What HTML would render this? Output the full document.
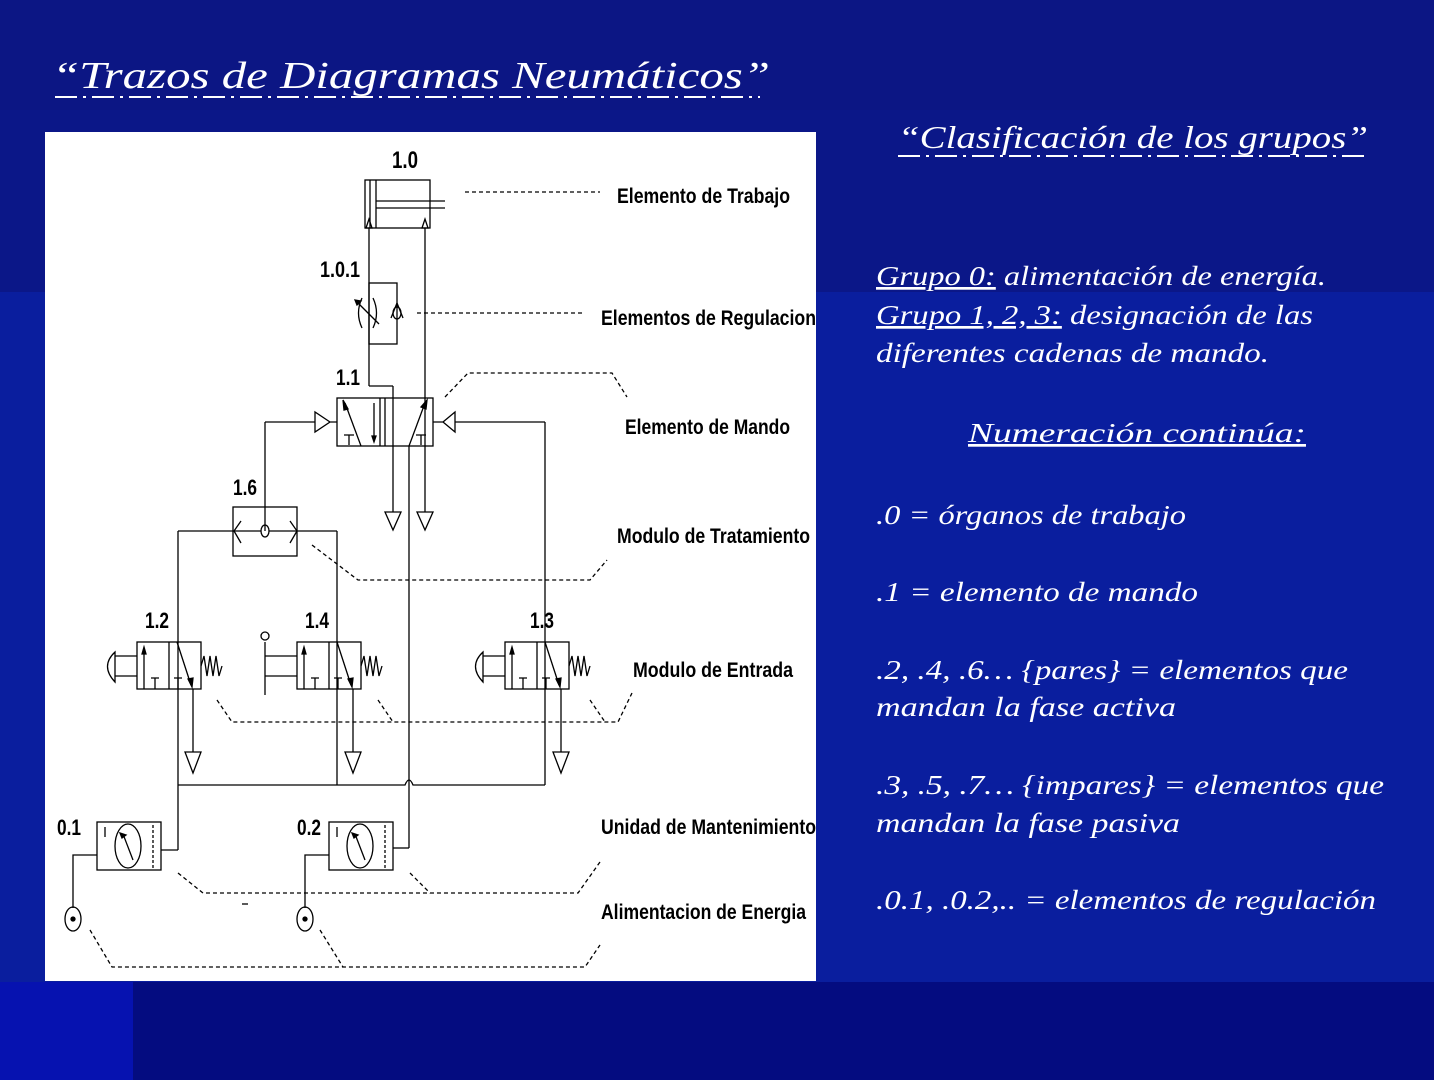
<!DOCTYPE html>
<html><head><meta charset="utf-8"><style>
html,body{margin:0;padding:0;width:1434px;height:1080px;overflow:hidden;background:#0a1c9c;}
.hw{font-family:"Liberation Serif",serif;font-style:italic;fill:#fff;}
.lb{font-family:"Liberation Sans Narrow","Liberation Sans",sans-serif;font-weight:bold;fill:#000;}
</style></head><body>
<svg width="1434" height="1080" viewBox="0 0 1434 1080" xmlns="http://www.w3.org/2000/svg">
<rect x="0" y="0" width="1434" height="1080" fill="#0a1e9e"/>
<rect x="0" y="0" width="1434" height="292" fill="#0b1788"/>
<rect x="0" y="0" width="1434" height="110" fill="#0c1684"/>
<rect x="133" y="982" width="1301" height="98" fill="#040c80"/>
<rect x="0" y="982" width="133" height="98" fill="#0612b0"/>

<text x="52" y="88" class="hw" font-size="38" textLength="718" lengthAdjust="spacingAndGlyphs">“Trazos de Diagramas  Neumáticos”</text>
<line x1="55" y1="97" x2="760" y2="97" stroke="#fff" stroke-width="2" stroke-dasharray="22,6,3,6"/>

<rect x="45" y="132" width="771" height="849" fill="#fff"/>
<g stroke="#000" stroke-width="1.3" fill="none">
<!-- cylinder -->
<rect x="365" y="180" width="65" height="48"/>
<line x1="370" y1="180" x2="370" y2="228"/><line x1="376" y1="180" x2="376" y2="228"/>
<line x1="376" y1="201" x2="445" y2="201"/><line x1="376" y1="208" x2="445" y2="208"/>
<path d="M366 228 L369 219 L372 228Z M422 228 L425 219 L428 228Z"/>
<line x1="465" y1="192" x2="600" y2="192" stroke-dasharray="4,3"/>
<!-- flow control -->
<line x1="369" y1="228" x2="369" y2="386"/>
<rect x="369" y="283" width="28" height="61"/>
<path d="M362 298 Q355 313 362 328 M373 298 Q380 313 373 328"/>
<line x1="355" y1="300" x2="379" y2="324"/><path d="M355 300 l6 1 l-4 4z" fill="#000"/>
<path d="M397 303 L391 318 M397 303 L403 318"/><ellipse cx="397" cy="313" rx="4" ry="6"/>
<line x1="417" y1="313" x2="583" y2="313" stroke-dasharray="4,3"/>
<line x1="369" y1="386" x2="393" y2="386"/>
<line x1="393" y1="386" x2="393" y2="512"/>
<line x1="425" y1="228" x2="425" y2="512"/>
<!-- valve 1.1 -->
<rect x="337" y="398" width="96" height="48"/>
<line x1="380" y1="398" x2="380" y2="446"/><line x1="385" y1="398" x2="385" y2="446"/>
<line x1="345" y1="403" x2="361" y2="446"/><path d="M343 400 l5 9 l-4 1z" fill="#000"/>
<line x1="374" y1="403" x2="374" y2="440"/><path d="M372 436 l2 6 l2 -6z" fill="#000"/>
<line x1="409" y1="446" x2="425" y2="403"/><path d="M427 400 l-1 9 l-5 -2z" fill="#000"/>
<path d="M344 435 h10 M349 435 v10 M416 435 h10 M421 435 v10"/>
<path d="M330 422 L315 412 L315 432Z M337 422 h-7"/>
<path d="M443 422 L455 412 L455 432Z M433 422 h10"/>
<line x1="265" y1="422" x2="315" y2="422"/><line x1="265" y1="422" x2="265" y2="531"/>
<line x1="455" y1="422" x2="545" y2="422"/><line x1="545" y1="422" x2="545" y2="642"/>
<path d="M385 512 L401 512 L393 530Z M417 512 L433 512 L425 530Z"/>
<line x1="409" y1="446" x2="409" y2="780"/>
<path d="M445 397 L468 373 L612 373 L627 397" stroke-dasharray="4,3"/>
<!-- shuttle 1.6 -->
<rect x="233" y="507" width="64" height="49"/>
<line x1="178" y1="531" x2="261" y2="531"/><line x1="269" y1="531" x2="337" y2="531"/>
<ellipse cx="265" cy="531" rx="4" ry="6"/>
<path d="M241 521 L234 531 L241 543 M290 521 L297 531 L290 543"/>
<line x1="178" y1="531" x2="178" y2="850"/>
<line x1="337" y1="531" x2="337" y2="785"/>
<path d="M312 545 L358 580 L590 580 L607 560" stroke-dasharray="4,3"/>
<!-- valves 1.2, 1.4, 1.3 -->
<g id="v">
<rect x="137" y="642" width="64" height="47"/>
<line x1="169" y1="642" x2="169" y2="689"/>
<line x1="144" y1="648" x2="144" y2="689"/><path d="M142 654 l2 -7 l2 7z" fill="#000"/>
<line x1="177" y1="642" x2="191" y2="685"/><path d="M188 679 l4 8 l1 -9z" fill="#000"/>
<path d="M151 678 h8 M155 678 v11 M174 678 h8 M178 678 v11"/>
<path d="M201 666 l3 -10 l3 20 l3 -20 l3 20 l3 -20 l3 20 l3 -10"/>
</g>
<use href="#v" x="160"/><use href="#v" x="368"/>
<path d="M137 656 h-22 M137 676 h-22 M115 652 Q100 666 115 682Z"/>
<path d="M505 656 h-22 M505 676 h-22 M483 652 Q468 666 483 682Z"/>
<path d="M297 656 h-32 M297 676 h-32 M265 642 v53"/><circle cx="265" cy="636" r="4"/>
<line x1="193" y1="689" x2="193" y2="752"/><path d="M185 752 L201 752 L193 773Z"/>
<line x1="353" y1="689" x2="353" y2="752"/><path d="M345 752 L361 752 L353 773Z"/>
<line x1="561" y1="689" x2="561" y2="752"/><path d="M553 752 L569 752 L561 773Z"/>
<path d="M217 700 L232 722 L618 722 L632 693 M378 700 L393 722 M590 700 L605 722" stroke-dasharray="4,3"/>
<path d="M178 785 L405 785 Q409 775 413 785 L545 785"/>
<line x1="545" y1="642" x2="545" y2="785"/>
<line x1="409" y1="780" x2="409" y2="848"/><line x1="409" y1="848" x2="393" y2="848"/>
<!-- FRL units -->
<g id="f">
<rect x="97" y="822" width="64" height="48"/>
<line x1="105" y1="827" x2="105" y2="837"/>
<ellipse cx="128" cy="846" rx="13" ry="22"/>
<line x1="153" y1="825" x2="153" y2="868" stroke-dasharray="3,2"/>
<line x1="123" y1="834" x2="133" y2="860"/><path d="M120 833 l6 2 l-4 3z" fill="#000"/>
<path d="M97 855 h-24 v53"/>
<ellipse cx="73" cy="919" rx="8" ry="12"/>
</g>
<use href="#f" x="232"/>
<circle cx="73" cy="919" r="2" fill="#000"/><circle cx="305" cy="919" r="2" fill="#000"/>
<line x1="178" y1="850" x2="161" y2="850"/>
<path d="M178 873 L203 893 L578 893 L600 862 M410 873 L430 893" stroke-dasharray="4,3"/>
<path d="M90 930 L112 967 L585 967 L600 945 M320 930 L343 967" stroke-dasharray="4,3"/>
<line x1="242" y1="904" x2="248" y2="904"/>
</g>
<g class="lb">
<text x="392" y="168" font-size="24" textLength="26" lengthAdjust="spacingAndGlyphs">1.0</text>
<text x="320" y="277" font-size="22" textLength="40" lengthAdjust="spacingAndGlyphs">1.0.1</text>
<text x="336" y="385" font-size="22" textLength="24" lengthAdjust="spacingAndGlyphs">1.1</text>
<text x="233" y="495" font-size="22" textLength="24" lengthAdjust="spacingAndGlyphs">1.6</text>
<text x="145" y="628" font-size="22" textLength="24" lengthAdjust="spacingAndGlyphs">1.2</text>
<text x="305" y="628" font-size="22" textLength="24" lengthAdjust="spacingAndGlyphs">1.4</text>
<text x="530" y="628" font-size="22" textLength="24" lengthAdjust="spacingAndGlyphs">1.3</text>
<text x="57" y="835" font-size="22" textLength="24" lengthAdjust="spacingAndGlyphs">0.1</text>
<text x="297" y="835" font-size="22" textLength="24" lengthAdjust="spacingAndGlyphs">0.2</text>
<text x="617" y="203" font-size="21" textLength="173" lengthAdjust="spacingAndGlyphs">Elemento de Trabajo</text>
<text x="601" y="325" font-size="21" textLength="215" lengthAdjust="spacingAndGlyphs">Elementos de Regulacion</text>
<text x="625" y="434" font-size="21" textLength="165" lengthAdjust="spacingAndGlyphs">Elemento de Mando</text>
<text x="617" y="543" font-size="21" textLength="193" lengthAdjust="spacingAndGlyphs">Modulo de Tratamiento</text>
<text x="633" y="677" font-size="21" textLength="160" lengthAdjust="spacingAndGlyphs">Modulo de Entrada</text>
<text x="601" y="834" font-size="21" textLength="215" lengthAdjust="spacingAndGlyphs">Unidad de Mantenimiento</text>
<text x="601" y="919" font-size="21" textLength="205" lengthAdjust="spacingAndGlyphs">Alimentacion de Energia</text>
</g>

<text x="1133" y="148" class="hw" font-size="32" text-anchor="middle" textLength="470" lengthAdjust="spacingAndGlyphs">“Clasificación de los grupos”</text>
<line x1="898" y1="156" x2="1368" y2="156" stroke="#fff" stroke-width="2" stroke-dasharray="22,6,3,6"/>
<g class="hw" font-size="27">
<text x="876" y="285" textLength="450" lengthAdjust="spacingAndGlyphs"><tspan text-decoration="underline">Grupo 0:</tspan> alimentación de energía.</text>
<text x="876" y="324" textLength="437" lengthAdjust="spacingAndGlyphs"><tspan text-decoration="underline">Grupo 1, 2, 3:</tspan> designación de las</text>
<text x="876" y="362" textLength="393" lengthAdjust="spacingAndGlyphs">diferentes cadenas de mando.</text>
<text x="968" y="442" textLength="338" lengthAdjust="spacingAndGlyphs" text-decoration="underline">Numeración continúa:</text>
<text x="876" y="524" textLength="310" lengthAdjust="spacingAndGlyphs">.0 = órganos de trabajo</text>
<text x="876" y="601" textLength="322" lengthAdjust="spacingAndGlyphs">.1 = elemento de mando</text>
<text x="876" y="679" textLength="472" lengthAdjust="spacingAndGlyphs">.2, .4, .6… {pares} = elementos que</text>
<text x="876" y="716" textLength="300" lengthAdjust="spacingAndGlyphs">mandan la fase activa</text>
<text x="876" y="794" textLength="508" lengthAdjust="spacingAndGlyphs">.3, .5, .7… {impares} = elementos que</text>
<text x="876" y="832" textLength="304" lengthAdjust="spacingAndGlyphs">mandan la fase pasiva</text>
<text x="876" y="909" textLength="500" lengthAdjust="spacingAndGlyphs">.0.1, .0.2,.. = elementos de regulación</text>
</g>
</svg>
</body></html>
